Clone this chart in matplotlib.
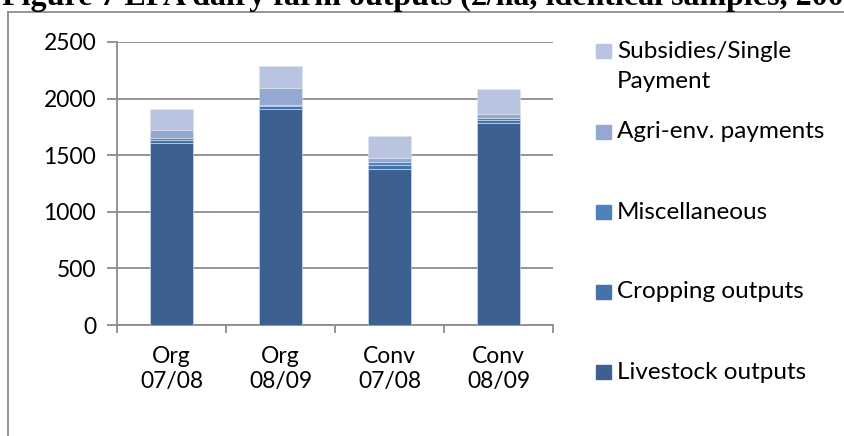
import matplotlib
matplotlib.use("Agg")
import matplotlib.pyplot as plt
from matplotlib.patches import Rectangle
from matplotlib.lines import Line2D

plt.rcParams['font.family'] = ['Lato', 'DejaVu Sans']

# data (£/ha)
groups = ['Org\n07/08', 'Org\n08/09', 'Conv\n07/08', 'Conv\n08/09']
livestock = [1610, 1912, 1375, 1788]
cropping = [20, 20, 38, 23]
misc = [20, 15, 30, 21]
agri_env = [70, 145, 35, 32]
subsidies = [190, 200, 192, 218]

series = [
    ('Livestock outputs', livestock, '#3C6190'),
    ('Cropping outputs', cropping, '#4573A9'),
    ('Miscellaneous', misc, '#4F81BD'),
    ('Agri-env. payments', agri_env, '#95A8D1'),
    ('Subsidies/Single\nPayment', subsidies, '#B9C5E0'),
]

W, H = 844, 436
fs = 16.5
fig = plt.figure(figsize=(W / 100, H / 100), dpi=100)

# axes box in pixels: x 117..553, y 42..325
ax = fig.add_axes([117 / W, 1 - 325 / H, (553 - 117) / W, (325 - 42) / H])

x = range(len(groups))
bottom = [0] * len(groups)
for name, vals, col in series:
    ax.bar(x, vals, width=0.4, bottom=bottom, color=col, edgecolor='#DDE4F0',
           linewidth=0.4, zorder=3)
    bottom = [b + v for b, v in zip(bottom, vals)]

ax.set_xlim(-0.5, len(groups) - 0.5)
ax.set_ylim(0, 2500)
ax.set_yticks(range(0, 2501, 500))
ax.yaxis.grid(True, color='#8C8C8C', linewidth=1.3, zorder=0)
ax.set_axisbelow(True)
for s in ['top', 'right']:
    ax.spines[s].set_visible(False)
for s in ['left', 'bottom']:
    ax.spines[s].set_color('#8C8C8C')
    ax.spines[s].set_linewidth(1.3)

ax.set_xticks(x)
ax.set_xticklabels(groups, fontsize=fs, linespacing=1.25)
ax.set_xticks([i - 0.5 for i in range(len(groups) + 1)], minor=True)
ax.tick_params(axis='x', which='major', length=0, pad=15)
ax.tick_params(axis='x', which='minor', length=6, color='#8C8C8C', width=1.3, direction='out')
ax.tick_params(axis='y', length=7, color='#8C8C8C', width=1.3, labelsize=fs, pad=8)

# legend drawn by hand, top to bottom
leg_y = [51, 132, 212, 292, 372]
for (name, vals, col), yy in zip(series[::-1], leg_y):
    fig.patches.append(Rectangle((596 / W, 1 - (yy + 7) / H), 15 / W, 14 / H,
                                 transform=fig.transFigure, color=col))
    parts = name.split('\n')
    fig.text(617 / W, 1 - yy / H, parts[0], fontsize=17.5, va='center')
    if len(parts) > 1:
        fig.text(617 / W, 1 - (yy + 31) / H, parts[1], fontsize=17.5, va='center')

# chart frame (left and top edges visible)
fig.lines.append(Line2D([8 / W, 8 / W], [0, 1 - 12 / H], transform=fig.transFigure,
                        color='#8C8C8C', linewidth=1.3))
fig.lines.append(Line2D([8 / W, 1], [1 - 12 / H, 1 - 12 / H], transform=fig.transFigure,
                        color='#8C8C8C', linewidth=1.3))

# clipped caption above the chart
fig.text(0.002, 1 - 5 / H, 'Figure 7 EFA dairy farm outputs (£/ha, identical samples, 2007',
         fontsize=23, fontweight='bold', family=['Liberation Serif', 'DejaVu Serif'],
         va='baseline', ha='left')

fig.savefig('out.png', dpi=100)
